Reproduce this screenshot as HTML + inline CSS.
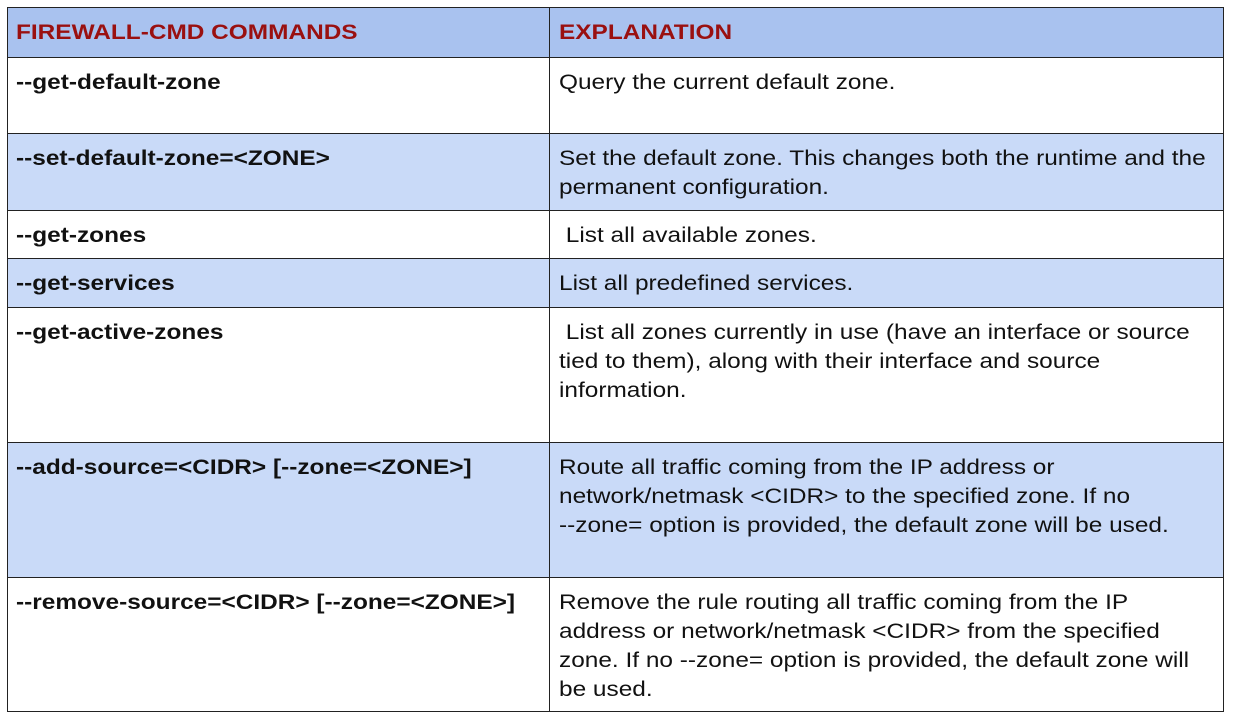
<!DOCTYPE html>
<html><head><style>
body{margin:0;width:1236px;height:720px;background:#fff;position:relative;font-family:"Liberation Sans",Arial,sans-serif;overflow:hidden}
.r{position:absolute;left:7px;width:1217px;border:1.5px solid #222;box-sizing:border-box;}
.c{position:absolute;top:0;bottom:0;box-sizing:border-box;padding-top:10px;font-size:21.5px;line-height:29px;color:#111}
.c span{display:inline-block;transform:scaleX(1.135);transform-origin:0 0;white-space:nowrap}
.l{left:0;width:542px;border-right:1.5px solid #222;padding-left:8px;font-weight:bold}
.e{left:542px;right:0;padding-left:9px}
.b{background:#c9daf8}
.h{background:#a9c2ef}
.h .c{color:#9a1010;font-weight:bold}
</style></head><body>
<div class="r h" style="top:7px;height:51px"><div class="c l"><span>FIREWALL-CMD COMMANDS</span></div><div class="c e"><span>EXPLANATION</span></div></div>
<div class="r" style="top:57px;height:77px"><div class="c l"><span>--get-default-zone</span></div><div class="c e"><span>Query the current default zone.</span></div></div>
<div class="r b" style="top:133px;height:78px"><div class="c l"><span>--set-default-zone=&lt;ZONE&gt;</span></div><div class="c e"><span>Set the default zone. This changes both the runtime and the<br>permanent configuration.</span></div></div>
<div class="r" style="top:210px;height:49px"><div class="c l"><span>--get-zones</span></div><div class="c e"><span>&nbsp;List all available zones.</span></div></div>
<div class="r b" style="top:258px;height:50px"><div class="c l"><span>--get-services</span></div><div class="c e"><span>List all predefined services.</span></div></div>
<div class="r" style="top:307px;height:136px"><div class="c l"><span>--get-active-zones</span></div><div class="c e"><span>&nbsp;List all zones currently in use (have an interface or source<br>tied to them), along with their interface and source<br>information.</span></div></div>
<div class="r b" style="top:442px;height:136px"><div class="c l"><span>--add-source=&lt;CIDR&gt; [--zone=&lt;ZONE&gt;]</span></div><div class="c e"><span>Route all traffic coming from the IP address or<br>network/netmask &lt;CIDR&gt; to the specified zone. If no<br>--zone= option is provided, the default zone will be used.</span></div></div>
<div class="r" style="top:577px;height:135px"><div class="c l"><span>--remove-source=&lt;CIDR&gt; [--zone=&lt;ZONE&gt;]</span></div><div class="c e"><span>Remove the rule routing all traffic coming from the IP<br>address or network/netmask &lt;CIDR&gt; from the specified<br>zone. If no --zone= option is provided, the default zone will<br>be used.</span></div></div>
</body></html>
